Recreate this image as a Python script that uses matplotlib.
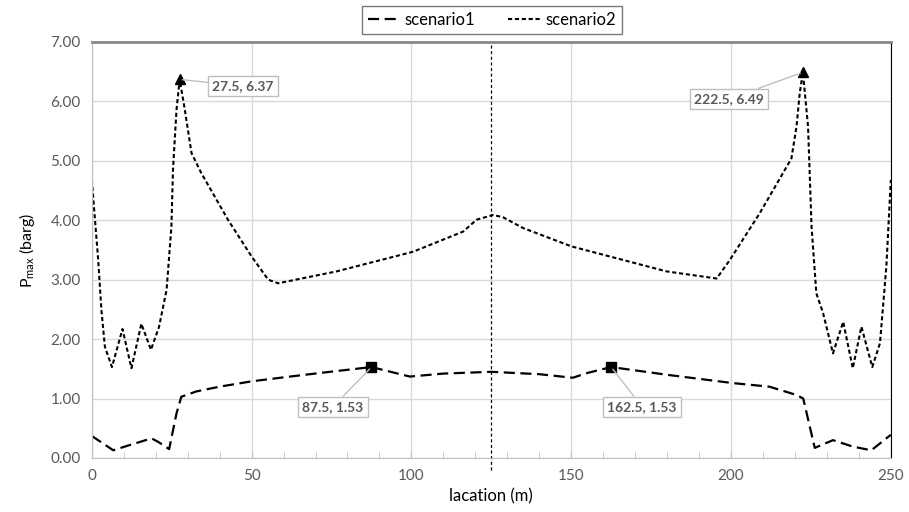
import numpy as np
import matplotlib
matplotlib.use('Agg')
import matplotlib.pyplot as plt
from matplotlib.ticker import MultipleLocator, FormatStrFormatter

plt.rcParams['font.family'] = ['Lato', 'DejaVu Sans']
plt.rcParams['mathtext.default'] = 'regular'

# scenario1 (long dash)
x1 = [0, 6.7, 12, 18.7, 20.8, 24.2, 26.5, 28, 32.7, 40, 50, 62, 74.5, 87.5,
      92, 99.5, 110, 125, 140, 150.5, 155, 162.5, 180, 200.6, 212, 220.5,
      222.6, 226.2, 231.9, 238.2, 243.9, 250]
y1 = [0.37, 0.13, 0.22, 0.33, 0.27, 0.15, 0.75, 1.03, 1.12, 1.20, 1.29, 1.37, 1.45, 1.53,
      1.47, 1.37, 1.42, 1.45, 1.41, 1.35, 1.43, 1.53, 1.40, 1.26, 1.20, 1.06,
      1.00, 0.17, 0.30, 0.19, 0.13, 0.39]

# scenario2 (short dash)
x2 = [0, 2.0, 3.0, 4.1, 6.3, 9.6, 12.4, 15.5, 18.5, 21, 23.4, 24.9, 25.4, 26.5, 27.5,
      29.1, 31.2, 34.3, 42.7, 50, 55.2, 58.3, 76.6, 100.5, 116.2, 120.4, 125.6,
      128.7, 134.9, 150.1, 179.8, 195.5, 199.6, 209, 218.9, 220.5, 221.5, 222.5,
      224.1, 225.2, 226.7, 228.8, 231.9, 235.1, 238.1, 240.8, 244.2, 246.6, 248.6, 250]
y2 = [4.68, 3.33, 2.49, 1.87, 1.53, 2.17, 1.51, 2.26, 1.82, 2.2, 2.83, 3.89, 4.85, 5.86, 6.37,
      5.86, 5.13, 4.79, 4.00, 3.39, 3.00, 2.94, 3.14, 3.47, 3.81, 4.01, 4.09,
      4.05, 3.87, 3.56, 3.14, 3.02, 3.33, 4.12, 5.04, 5.58, 6.14, 6.49,
      5.58, 3.89, 2.77, 2.44, 1.76, 2.29, 1.51, 2.21, 1.53, 1.93, 3.22, 4.68]

# labelled maxima
pk1_x = [87.5, 162.5]
pk1_y = [1.53, 1.53]
pk2_x = [27.5, 222.5]
pk2_y = [6.37, 6.49]
# label box positions (data coords)
pk1_txt = [(75.4, 0.86), (172.2, 0.86)]
pk2_txt = [(47.2, 6.26), (199.3, 6.04)]

fig = plt.figure(figsize=(9.09, 5.12), dpi=100)
ax = fig.add_axes([0.101, 0.1055, 0.879, 0.8125])

l1, = ax.plot(x1, y1, color='black', lw=1.6, ls=(0, (5, 2.5)), label='scenario1')
l2, = ax.plot(x2, y2, color='black', lw=1.5, ls=(0, (2.0, 1.3)), label='scenario2')
ax.plot(pk1_x, pk1_y, 's', color='black', ms=7)
ax.plot(pk2_x, pk2_y, '^', color='black', ms=7)

box = dict(boxstyle='square,pad=0.3', fc='white', ec='#bfbfbf', lw=1)
for (px, py), (tx, ty) in zip(list(zip(pk1_x, pk1_y)) + list(zip(pk2_x, pk2_y)), pk1_txt + pk2_txt):
    ax.annotate(f'{px}, {py:.2f}', xy=(px, py), xytext=(tx, ty), ha='center', va='center',
                fontsize=10, fontweight='bold', color='#595959', bbox=box,
                arrowprops=dict(arrowstyle='-', color='#bfbfbf', lw=1, shrinkA=0, shrinkB=2))

ax.axvline(125, ymin=-0.03, ymax=1, clip_on=False, color='black', lw=0.9, ls=(0, (2.5, 2)))

ax.set_xlim(0, 250)
ax.set_ylim(0, 7)
ax.xaxis.set_major_locator(MultipleLocator(50))
ax.xaxis.set_minor_locator(MultipleLocator(10))
ax.yaxis.set_major_locator(MultipleLocator(1))
ax.yaxis.set_major_formatter(FormatStrFormatter('%.2f'))
ax.grid(True, which='major', color='#d9d9d9', lw=1)
ax.set_axisbelow(True)
ax.tick_params(axis='x', which='both', direction='in', length=4, color='#bfbfbf',
               labelsize=11, labelcolor='#595959', pad=8)
ax.tick_params(axis='y', length=0, labelsize=11, labelcolor='#595959', pad=8)

for s in ['left', 'bottom']:
    ax.spines[s].set_color('#bfbfbf')
ax.spines['top'].set_color('#888888')
ax.spines['top'].set_linewidth(2)
ax.spines['right'].set_color('black')

ax.set_xlabel('lacation (m)', fontsize=12, labelpad=4)
ax.set_ylabel('P$_{max}$ (barg)', fontsize=11.5, labelpad=10)

leg = fig.legend(handles=[l1, l2], loc='upper center', bbox_to_anchor=(0.541, 0.995),
                 ncol=2, frameon=True, fancybox=False, fontsize=12, handlelength=2.0,
                 handletextpad=0.2, columnspacing=2.0, borderpad=0.35, borderaxespad=0.2)
leg.get_frame().set_edgecolor('#595959')
leg.get_frame().set_linewidth(1)

fig.savefig('out.png', dpi=100)
